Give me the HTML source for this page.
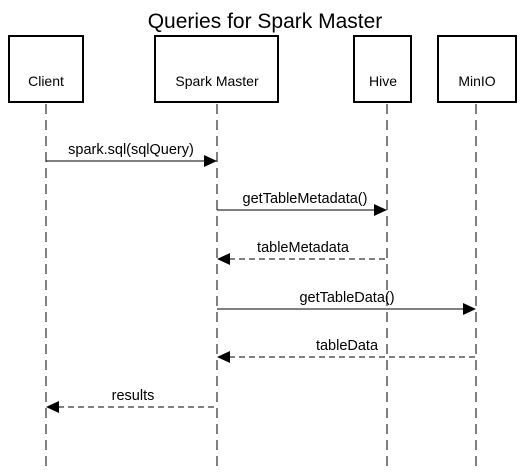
<!DOCTYPE html>
<html><head><style>html,body{margin:0;padding:0;background:#fff}</style></head><body>
<svg width="531" height="469" xmlns="http://www.w3.org/2000/svg" font-family="Liberation Sans, Arial, sans-serif">
<rect width="531" height="469" fill="#fff"/>
<text x="265" y="28" font-size="21" text-anchor="middle">Queries for Spark Master</text>
<g fill="#fff" stroke="#000" stroke-width="2">
<rect x="9" y="36" width="74" height="66"/>
<rect x="155" y="36" width="123" height="66"/>
<rect x="354" y="36" width="57" height="66"/>
<rect x="438" y="36" width="78" height="66"/>
</g>
<g font-size="14" text-anchor="middle">
<text x="46" y="86">Client</text>
<text x="217" y="86">Spark Master</text>
<text x="383" y="86">Hive</text>
<text x="477" y="86">MinIO</text>
</g>
<g stroke="#000" stroke-width="1" stroke-dasharray="10,6">
<line x1="46" y1="104" x2="46" y2="469"/>
<line x1="217" y1="104" x2="217" y2="469"/>
<line x1="387" y1="104" x2="387" y2="469"/>
<line x1="476" y1="104" x2="476" y2="469"/>
</g>
<g stroke="#000" stroke-width="1">
<line x1="46" y1="161" x2="205" y2="161"/>
<line x1="217" y1="210" x2="375" y2="210"/>
<line x1="229" y1="259" x2="387" y2="259" stroke-dasharray="6,4"/>
<line x1="217" y1="309" x2="464" y2="309"/>
<line x1="229" y1="357" x2="476" y2="357" stroke-dasharray="6,4"/>
<line x1="58" y1="407" x2="217" y2="407" stroke-dasharray="6,4"/>
</g>
<g fill="#000">
<polygon points="217,161 204,155 204,167"/>
<polygon points="387,210 374,204 374,216"/>
<polygon points="217,259 230,253 230,265"/>
<polygon points="476,309 463,303 463,315"/>
<polygon points="217,357 230,351 230,363"/>
<polygon points="46,407 59,401 59,413"/>
</g>
<g font-size="14.5" text-anchor="middle">
<text x="131" y="154">spark.sql(sqlQuery)</text>
<text x="305" y="203">getTableMetadata()</text>
<text x="303" y="252">tableMetadata</text>
<text x="347" y="302">getTableData()</text>
<text x="347" y="350">tableData</text>
<text x="133" y="400">results</text>
</g>
</svg>
</body></html>
